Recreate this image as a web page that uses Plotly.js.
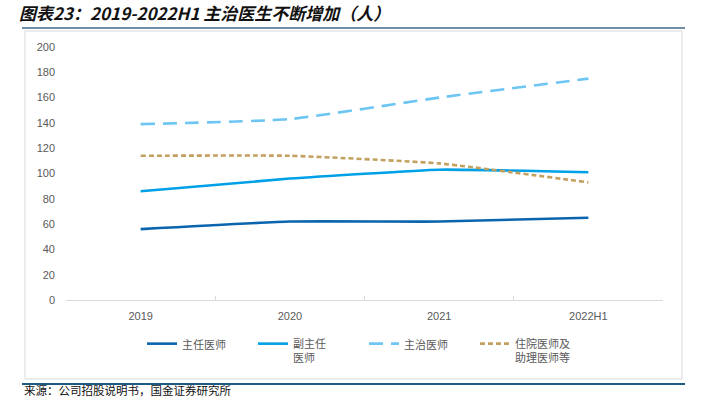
<!DOCTYPE html>
<html>
<head>
<meta charset="utf-8">
<script src="https://cdn.plot.ly/plotly-3.0.1.min.js"></script>
<style>html,body{margin:0;padding:0;background:#fff;}#chart{width:706px;height:397px;}</style>
</head>
<body>
<div id="chart"></div>
<script>
var categories = ["2019", "2020", "2021", "2022H1"];
var chiefPhysician = [56, 62, 62, 65];
var associateChief = [86, 96, 103, 101];
var attending = [139, 143, 160, 175];
var residents = [114, 114, 108, 93];
var seriesNames = ["主任医师", "副主任<br>医师", "主治医师", "住院医师及<br>助理医师等"];
var yTicks = [0, 20, 40, 60, 80, 100, 120, 140, 160, 180, 200];

var L = 66, R = 663, T = 47, B = 300;
function px(x){ return (x - L) / (R - L); }
function py(y){ return (B - y) / (B - T); }

var common = {type: 'scatter', mode: 'lines', x: categories, hoverinfo: 'skip'};
var traces = [
  Object.assign({}, common, {y: chiefPhysician, name: seriesNames[0], line: {color: '#0b65ae', width: 2.6, shape: 'spline', smoothing: 0.4}}),
  Object.assign({}, common, {y: associateChief, name: seriesNames[1], line: {color: '#00a0e6', width: 2.6, shape: 'spline', smoothing: 0.4}}),
  Object.assign({}, common, {y: attending, name: seriesNames[2], line: {color: '#6cc5f3', width: 2.6, dash: '14px,8px', shape: 'spline', smoothing: 0.4}}),
  Object.assign({}, common, {y: residents, name: seriesNames[3], line: {color: '#c2a060', width: 2.6, dash: '5px,3px', shape: 'spline', smoothing: 0.4}})
];

var layout = {
  width: 706, height: 397,
  margin: {l: L, r: 706 - R, t: T, b: 397 - B, pad: 0, autoexpand: false},
  paper_bgcolor: '#ffffff', plot_bgcolor: '#ffffff',
  font: {family: 'Arial, "Liberation Sans", "Noto Sans CJK SC", sans-serif', size: 11, color: '#595959'},
  title: {
    text: '<b><i>图表23：2019-2022H1 主治医生不断增加（人）</i></b>',
    font: {family: '"Noto Sans CJK SC", sans-serif', size: 17, color: '#111111'},
    x: 19 / 706, xanchor: 'left', xref: 'container',
    y: 1 - 14 / 397, yanchor: 'middle', yref: 'container'
  },
  xaxis: {
    type: 'category', range: [-0.5, 3.5],
    showgrid: false, zeroline: false,
    showline: true, linecolor: '#d9d9d9', linewidth: 1,
    ticks: 'inside', tickson: 'boundaries', ticklen: 4, tickcolor: '#d9d9d9',
    tickfont: {size: 11, color: '#595959'}, ticklabelstandoff: 6
  },
  yaxis: {
    range: [0, 200], tickvals: yTicks, ticktext: yTicks.map(String),
    showgrid: false, zeroline: false, showline: false, ticks: '',
    tickfont: {size: 11, color: '#595959'}, ticklabelstandoff: 10
  },
  showlegend: true,
  legend: {
    orientation: 'h', x: px(142), xanchor: 'left', y: py(330), yanchor: 'top',
    valign: 'top', entrywidth: 66, entrywidthmode: 'pixels',
    font: {size: 11, color: '#595959', family: '"Noto Sans CJK SC", sans-serif'},
    bgcolor: 'rgba(0,0,0,0)', traceorder: 'normal', tracegroupgap: 0
  },
  shapes: [
    {type: 'rect', xref: 'paper', yref: 'paper', x0: px(25), x1: px(682), y0: py(379), y1: py(31), line: {color: '#d9d9d9', width: 1}, fillcolor: 'rgba(0,0,0,0)', layer: 'below'},
    {type: 'line', xref: 'paper', yref: 'paper', x0: px(22), x1: px(685), y0: py(28), y1: py(28), line: {color: '#6f8fa8', width: 2}},
    {type: 'line', xref: 'paper', yref: 'paper', x0: px(22), x1: px(685), y0: py(384), y1: py(384), line: {color: '#1b5a83', width: 2}}
  ],
  annotations: [
    {text: '来源：公司招股说明书，国金证券研究所', xref: 'paper', yref: 'paper', x: px(22), y: py(390), xanchor: 'left', yanchor: 'middle', showarrow: false, font: {family: '"Noto Sans CJK SC", sans-serif', size: 11.5, color: '#111111'}}
  ]
};

Plotly.newPlot('chart', traces, layout, {displayModeBar: false, staticPlot: true});
</script>
</body>
</html>
